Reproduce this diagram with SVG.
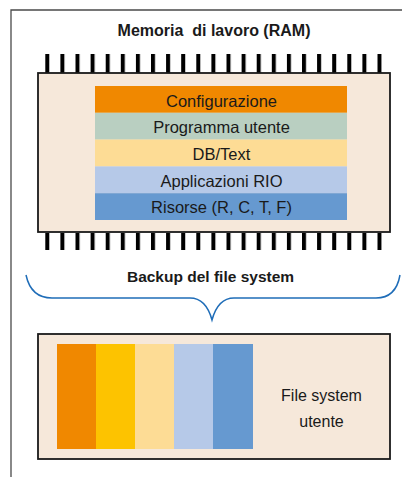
<svg xmlns="http://www.w3.org/2000/svg" width="402" height="477" viewBox="0 0 402 477">
<defs>
<style>
.frame{fill:none;stroke:#4a4a4a;stroke-width:1.3}
.box{fill:#F6E8DA;stroke:#1a1a1a;stroke-width:1.8}
.pin{fill:#000}
.title{font-family:"Liberation Sans",Arial,sans-serif;font-weight:bold;font-size:15.5px;fill:#1a1a1a;text-anchor:middle;white-space:pre}
.lbl{font-family:"Liberation Sans",Arial,sans-serif;font-size:16px;fill:#1a1a1a;text-anchor:middle}
.row{font-size:16.5px}
.brace{fill:none;stroke:#1F6DB8;stroke-width:1.5}
</style>
<pattern id="pins" x="45.3" y="0" width="15.1" height="477" patternUnits="userSpaceOnUse">
<rect x="0" y="0" width="4" height="477" class="pin"/>
</pattern>
</defs>
<rect width="402" height="477" fill="#fff"/>
<path class="frame" d="M11,477 L11,10 L402,10"/>
<g id="ram">
<text class="title" x="214" y="36" xml:space="preserve" style="font-size:16px">Memoria  di lavoro (RAM)</text>
<rect x="45" y="54" width="337" height="19" fill="url(#pins)"/>
<rect x="45" y="233" width="337" height="17" fill="url(#pins)"/>
<rect class="box" x="38" y="73" width="352" height="159"/>
</g>
<g id="config">
<rect x="95" y="86" width="252" height="26.8" fill="#F08800"/>
<text class="lbl row" x="221.5" y="106.5">Configurazione</text>
</g>
<g id="programma">
<rect x="95" y="112.8" width="252" height="26.8" fill="#B9CFC1"/>
<text class="lbl row" x="221.5" y="133.3">Programma utente</text>
</g>
<g id="dbtext">
<rect x="95" y="139.6" width="252" height="26.8" fill="#FDDC95"/>
<text class="lbl row" x="221.5" y="160">DB/Text</text>
</g>
<g id="rio">
<rect x="95" y="166.4" width="252" height="26.8" fill="#B6C9E8"/>
<text class="lbl row" x="221.5" y="186.7">Applicazioni RIO</text>
</g>
<g id="risorse">
<rect x="95" y="193.2" width="252" height="26.8" fill="#6699D0"/>
<text class="lbl row" x="221.5" y="213.4">Risorse (R, C, T, F)</text>
</g>
<g id="connectors">
<path class="brace" d="M26,275 Q31,298 52,298 L190,298 Q206,298 212,320 Q218,298 234,298 L376,298 Q396,298 400,275"/>
</g>
<g id="backup">
<text class="title" x="210.5" y="282">Backup del file system</text>
</g>
<g id="filesystem">
<rect class="box" x="38" y="334" width="352" height="125"/>
<rect x="57" y="344" width="39" height="105" fill="#F08800"/>
<rect x="96" y="344" width="39" height="105" fill="#FDC300"/>
<rect x="135" y="344" width="39" height="105" fill="#FDDC95"/>
<rect x="174" y="344" width="39" height="105" fill="#B6C9E8"/>
<rect x="213" y="344" width="40" height="105" fill="#6699D0"/>
<text class="lbl" x="321.5" y="401">File system</text>
<text class="lbl" x="321.5" y="427">utente</text>
</g>
</svg>
